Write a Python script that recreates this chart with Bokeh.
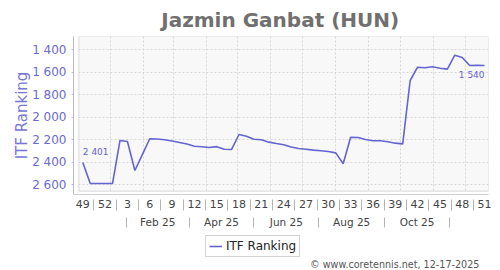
from datetime import date
from bokeh.plotting import figure
from bokeh.layouts import column
from bokeh.models import (Range1d, FixedTicker, LinearAxis, Legend, LegendItem,
                          BoxAnnotation, Label, Grid, ColumnDataSource)
from bokeh.core.properties import value
from bokeh.embed import file_html
from bokeh.resources import INLINE

# ---------------- data ----------------
player = "Jazmin Ganbat (HUN)"
series_name = "ITF Ranking"
first_week = date(2024, 12, 6)          # ISO week 49 of 2024, one point per week
ranking = [2401, 2588, 2588, 2588, 2588, 2206, 2215, 2473, 2332, 2191,
           2193, 2200, 2210, 2224, 2238, 2257, 2262, 2268, 2261, 2284,
           2286, 2153, 2168, 2195, 2200, 2221, 2233, 2244, 2264, 2277,
           2284, 2292, 2298, 2304, 2316, 2413, 2177, 2180, 2197, 2209,
           2209, 2218, 2230, 2236, 1673, 1555, 1560, 1551, 1564, 1572,
           1448, 1468, 1540, 1537, 1540]
week_index = list(range(len(ranking)))
week_labels = ["49", "52", "3", "6", "9", "12", "15", "18", "21", "24",
               "27", "30", "33", "36", "39", "42", "45", "48", "51"]
month_labels = ["Feb 25", "Apr 25", "Jun 25", "Aug 25", "Oct 25"]
y_ticks = [1400, 1600, 1800, 2000, 2200, 2400, 2600]
footer = "\u00a9 www.coretennis.net, 12-17-2025"

FONT = "DejaVu Sans"
LINE = "#6464d2"

def idx(d):
    return (d - first_week).days / 7.0

def fmt(v):
    return f"{v:,}".replace(",", " ")

grid_x = [idx(date(2025, m, 1)) for m in range(1, 13)]
month_sep = [idx(date(2025, m, 16)) for m in (1, 3, 5, 7, 9, 11)]
month_pos = [(a + b) / 2 for a, b in zip(month_sep[:-1], month_sep[1:])]
week_pos = list(range(0, len(ranking), 3))
week_sep = [w + 1.5 for w in week_pos[:-1]]

# ---------------- scales ----------------
x_lo, x_hi = -1.25, 54.53
y_top, y_bot = 1281.8, 2686.3
box_left, box_bottom = -0.54, 2656.9

# ---------------- title strip ----------------
t = figure(width=500, height=36, output_backend="svg", toolbar_location=None,
           x_axis_type=None, y_axis_type=None,
           x_range=Range1d(0, 500), y_range=Range1d(0, 36),
           min_border_left=0, min_border_right=0, min_border_top=0,
           min_border_bottom=0, background_fill_color="white",
           border_fill_color="white", outline_line_color=None)
t.add_layout(Label(x=249, y=16.5, text=player, text_align="center",
                   text_baseline="alphabetic", text_font=FONT,
                   text_font_size="20px", text_font_style="bold",
                   text_color="#707070"))

# ---------------- main chart ----------------
p = figure(width=500, height=196, output_backend="svg", toolbar_location=None,
           x_axis_type=None, y_axis_type=None,
           x_range=Range1d(x_lo, x_hi), y_range=Range1d(y_bot, y_top),
           min_border_left=73, min_border_right=12, min_border_top=0,
           min_border_bottom=38, background_fill_color="white",
           border_fill_color="white", outline_line_color=None)

box = BoxAnnotation(left=box_left, right=x_hi, top=y_top, bottom=box_bottom,
                    fill_color="#f8f8f8", fill_alpha=1.0,
                    line_color="#8a8a8a", line_width=1, level="image")
p.add_layout(box)

xg = Grid(dimension=0, ticker=FixedTicker(ticks=grid_x),
          grid_line_color="#d6d6d6", grid_line_dash="2 2", grid_line_width=1,
          cross_bounds=(y_top, box_bottom))
yg = Grid(dimension=1, ticker=FixedTicker(ticks=y_ticks),
          grid_line_color="#d6d6d6", grid_line_dash="2 2", grid_line_width=1,
          cross_bounds=(box_left, x_hi))
p.add_layout(xg)
p.add_layout(yg)

yax = LinearAxis(ticker=FixedTicker(ticks=y_ticks),
                 major_label_overrides={v: fmt(v) for v in y_ticks},
                 axis_label=series_name)
yax.axis_line_color = "#b8b8e8"
yax.major_tick_line_color = "#b8b8e8"
yax.major_tick_in = 0
yax.major_tick_out = 2
yax.minor_tick_line_color = None
yax.minor_tick_out = 0
yax.minor_tick_in = 0
yax.major_label_standoff = 5
yax.major_label_text_font = FONT
yax.major_label_text_font_size = "12px"
yax.major_label_text_color = "#6a6ad2"
yax.axis_label_text_font = FONT
yax.axis_label_text_font_size = "15px"
yax.axis_label_text_font_style = "normal"
yax.axis_label_text_color = "#7676d6"
yax.axis_label_standoff = -2
p.add_layout(yax, "left")

wax = LinearAxis(ticker=FixedTicker(ticks=week_pos, minor_ticks=week_sep),
                 major_label_overrides={w: l for w, l in zip(week_pos, week_labels)})
wax.axis_line_color = "#cfcfcf"
wax.major_tick_line_color = None
wax.major_tick_out = 0
wax.major_tick_in = 0
wax.minor_tick_line_color = "#b4b4b4"
wax.minor_tick_line_width = 1
wax.minor_tick_in = -5
wax.minor_tick_out = 16
wax.major_label_standoff = -11
wax.major_label_text_font = FONT
wax.major_label_text_font_size = "11px"
wax.major_label_text_color = "#444444"
p.add_layout(wax, "below")

max_ = LinearAxis(ticker=FixedTicker(ticks=month_pos, minor_ticks=month_sep),
                  major_label_overrides={m: l for m, l in zip(month_pos, month_labels)})
max_.axis_line_color = None
max_.major_tick_line_color = None
max_.major_tick_out = 0
max_.major_tick_in = 0
max_.minor_tick_line_color = "#b4b4b4"
max_.minor_tick_line_width = 1
max_.minor_tick_in = -7
max_.minor_tick_out = 17
max_.major_label_standoff = -12
max_.major_label_text_font = FONT
max_.major_label_text_font_size = "10.5px"
max_.major_label_text_color = "#444444"
p.add_layout(max_, "below")

src = ColumnDataSource(dict(x=week_index, y=ranking))
line = p.line("x", "y", source=src, line_color=LINE, line_width=1.6)

first = ColumnDataSource(dict(x=[week_index[0]], y=[ranking[0]], t=[fmt(ranking[0])]))
last = ColumnDataSource(dict(x=[week_index[-1]], y=[ranking[-1]], t=[fmt(ranking[-1])]))
p.text("x", "y", text="t", source=first, text_font=value(FONT), text_font_size="9px",
       text_color=LINE, text_align="left", text_baseline="bottom", y_offset=-5)
p.text("x", "y", text="t", source=last, text_font=value(FONT), text_font_size="9px",
       text_color=LINE, text_align="right", text_baseline="top", y_offset=4)

# ---------------- legend + footer strip ----------------
q = figure(width=500, height=38, output_backend="svg", toolbar_location=None,
           x_axis_type=None, y_axis_type=None,
           x_range=Range1d(0, 500), y_range=Range1d(0, 38),
           min_border_left=0, min_border_right=0, min_border_top=0,
           min_border_bottom=0, background_fill_color="white",
           border_fill_color="white", outline_line_color=None)
key = q.line("x", "y", source=src, line_color=LINE, line_width=1.6)
legend = Legend(items=[LegendItem(label=series_name, renderers=[key])],
                location=(132, 13), orientation="vertical",
                border_line_color="#a8a8a8", border_line_width=1,
                background_fill_color="white", background_fill_alpha=1.0,
                label_text_font=FONT, label_text_font_size="12px",
                label_text_color="#222222", padding=3, spacing=0, margin=0,
                glyph_width=13, glyph_height=14, label_standoff=4, label_height=14)
q.add_layout(legend)
q.add_layout(Label(x=489, y=6.5, text=footer, text_align="right",
                   text_baseline="middle", text_font=FONT, text_font_size="9.6px",
                   text_color="#555555"))

layout = column(t, p, q, spacing=0)
open("out.html", "w").write(file_html(layout, INLINE))
